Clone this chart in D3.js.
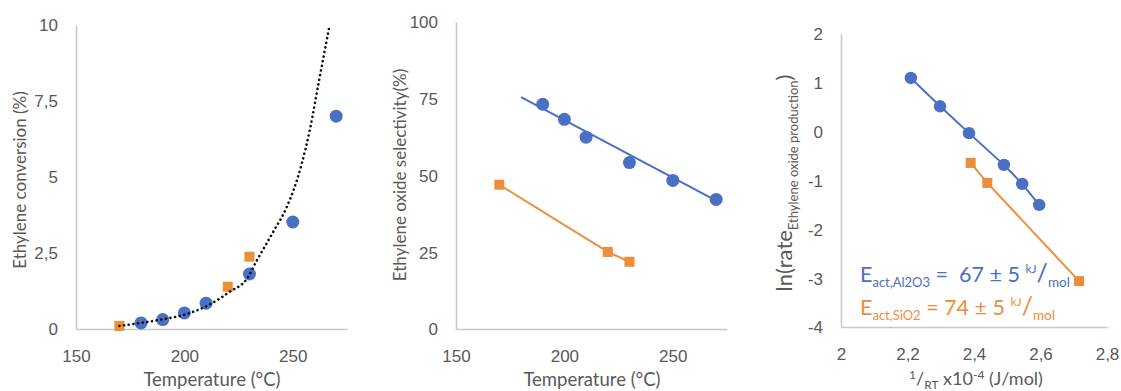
<!DOCTYPE html>
<html><head><meta charset="utf-8">
<script src="https://cdn.jsdelivr.net/npm/d3@7/dist/d3.min.js"></script>
<style>
html,body{margin:0;padding:0;background:#fff;}
svg{display:block;font-family:Lato,"Open Sans",sans-serif;}
</style></head>
<body><svg id="c" width="1121" height="391"></svg>
<script>
// ---------- data ----------
// Panel 1: ethylene conversion (%) vs temperature
const convAlT = [180,190,200,210,230,250,270];
const convAlV = [0.2,0.31,0.53,0.85,1.81,3.52,7.0];
const convSiT = [170,220,230];
const convSiV = [0.1,1.39,2.38];
// dotted exponential trend line
const trendT = [170,180,190,200,212,221,229,233,241,247,254,258,262,267];
const trendV = [0.10,0.20,0.32,0.47,0.82,1.23,1.67,2.2,3.2,3.98,5.4,6.6,8.13,10];
const p1YTicks = [0,2.5,5,7.5,10];
const p1XTicks = [150,200,250];

// Panel 2: ethylene oxide selectivity (%) vs temperature
const selAlT = [190,200,210,230,250,270];
const selAlV = [73.2,68.3,62.5,54.2,48.4,42.2];
const selAlFitT = [180,270];
const selAlFitV = [75.5,41.8];
const selSiT = [170,220,230];
const selSiV = [47,25.1,21.9];
const p2YTicks = [0,25,50,75,100];
const p2XTicks = [150,200,250];

// Panel 3: Arrhenius plot
const arrAlX = [2.21,2.298,2.385,2.49,2.545,2.596];
const arrAlY = [1.1,0.52,-0.03,-0.68,-1.07,-1.5];
const arrSiX = [2.39,2.44,2.716];
const arrSiY = [-0.64,-1.05,-3.06];
const p3YTicks = [-4,-3,-2,-1,0,1,2];
const p3XTicks = [2,2.2,2.4,2.6,2.8];

// ---------- style ----------
const BLUE = "#4A6FC4", ORANGE = "#EE8D3C", AXIS = "#C8C8C8", TXT = "#595959";
const fmt = d => String(d).replace(".", ",");
const svg = d3.select("#c");

function panel(o) {
  const g = svg.append("g");
  const x = d3.scaleLinear().domain(o.xd).range(o.xr);
  const y = d3.scaleLinear().domain(o.yd).range(o.yr);
  const ax = d3.axisBottom(x).tickValues(o.xt).tickSize(0).tickPadding(0).tickFormat(fmt);
  const gx = g.append("g").attr("transform", `translate(0,${o.yr[0]})`).call(ax);
  gx.select(".domain").attr("stroke", AXIS).attr("stroke-width", 1.5);
  gx.selectAll("text").attr("fill", TXT).attr("font-size", 17).attr("dy", 0).attr("y", 33);
  const ay = d3.axisLeft(y).tickValues(o.yt).tickSize(0).tickPadding(0).tickFormat(fmt);
  const gy = g.append("g").attr("transform", `translate(${o.xr[0]},0)`).call(ay);
  gy.select(".domain").attr("stroke", AXIS).attr("stroke-width", 1.5);
  gy.selectAll("text").attr("fill", TXT).attr("font-size", 17).attr("x", -18).attr("dy", "0.35em");
  return {g, x, y};
}
function circles(p, xs, ys, r) {
  p.g.append("g").selectAll("circle").data(xs.map((d,i)=>[d,ys[i]])).join("circle")
    .attr("cx", d=>p.x(d[0])).attr("cy", d=>p.y(d[1])).attr("r", r).attr("fill", BLUE);
}
function squares(p, xs, ys, s) {
  p.g.append("g").selectAll("rect").data(xs.map((d,i)=>[d,ys[i]])).join("rect")
    .attr("x", d=>p.x(d[0])-s/2).attr("y", d=>p.y(d[1])-s/2).attr("width", s).attr("height", s).attr("fill", ORANGE);
}
function line(p, xs, ys, color, w, curve) {
  const ln = d3.line().x(d=>p.x(d[0])).y(d=>p.y(d[1])).curve(curve || d3.curveLinear);
  return p.g.append("path").datum(xs.map((d,i)=>[d,ys[i]])).attr("d", ln)
    .attr("fill", "none").attr("stroke", color).attr("stroke-width", w);
}

// ---------- Panel 1 ----------
const p1 = panel({xd:[150,275], xr:[76,347], yd:[0,10], yr:[329,25], xt:p1XTicks, yt:p1YTicks});
squares(p1, convSiT, convSiV, 10);
circles(p1, convAlT, convAlV, 6.5);
line(p1, trendT, trendV, "#111", 2.6, d3.curveMonotoneX)
  .attr("stroke-dasharray", "0.1 4.6").attr("stroke-linecap", "round");
p1.g.append("text").attr("x", 212).attr("y", 386).attr("text-anchor", "middle")
  .attr("fill", TXT).attr("font-size", 18.5).text("Temperature (°C)");
p1.g.append("text").attr("transform", "translate(26,180) rotate(-90)").attr("text-anchor", "middle")
  .attr("fill", TXT).attr("font-size", 17).text("Ethylene conversion (%)");

// ---------- Panel 2 ----------
const p2 = panel({xd:[150,275], xr:[456,727], yd:[0,100], yr:[329,22], xt:p2XTicks, yt:p2YTicks});
line(p2, selAlFitT, selAlFitV, BLUE, 2);
line(p2, selSiT, selSiV, ORANGE, 2);
circles(p2, selAlT, selAlV, 6.5);
squares(p2, selSiT, selSiV, 10);
p2.g.append("text").attr("x", 592).attr("y", 386).attr("text-anchor", "middle")
  .attr("fill", TXT).attr("font-size", 18.5).text("Temperature (°C)");
p2.g.append("text").attr("transform", "translate(406,175) rotate(-90)").attr("text-anchor", "middle")
  .attr("fill", TXT).attr("font-size", 17).text("Ethylene oxide selectivity(%)");

// ---------- Panel 3 ----------
const p3 = panel({xd:[2,2.8], xr:[841,1107], yd:[-4,2], yr:[327,34], xt:p3XTicks, yt:p3YTicks});
line(p3, arrAlX, arrAlY, BLUE, 2);
line(p3, arrSiX, arrSiY, ORANGE, 2);
circles(p3, arrAlX, arrAlY, 6.2);
squares(p3, arrSiX, arrSiY, 10);
const xt3 = p3.g.append("text").attr("x", 976).attr("y", 385).attr("text-anchor", "middle")
  .attr("fill", TXT).attr("font-size", 18);
xt3.append("tspan").attr("font-size", 12).attr("dy", -6).text("1");
xt3.append("tspan").attr("dy", 6).text("/");
xt3.append("tspan").attr("font-size", 12).attr("dy", 4).text("RT");
xt3.append("tspan").attr("dy", -4).text(" x10");
xt3.append("tspan").attr("font-size", 12).attr("dy", -6).text("-4");
xt3.append("tspan").attr("dy", 6).text(" (J/mol)");
const yt3 = p3.g.append("text").attr("transform", "translate(792,183) rotate(-90)").attr("text-anchor", "middle")
  .attr("fill", TXT).attr("font-size", 22);
yt3.append("tspan").text("ln(rate");
yt3.append("tspan").attr("font-size", 13).attr("dy", 6).text("Ethylene oxide production");
yt3.append("tspan").attr("dy", -6).text(")");
function eact(yb, sub, val, color) {
  const t = p3.g.append("text").attr("x", 860).attr("y", yb).attr("fill", color).attr("font-size", 21.5);
  t.append("tspan").text("E");
  t.append("tspan").attr("font-size", 13).attr("dy", 5).text(sub);
  t.append("tspan").attr("dy", -5).text(val);
  t.append("tspan").attr("font-size", 12).attr("dy", -9).text("kJ");
  t.append("tspan").attr("font-size", 25).attr("dy", 9).text("/");
  t.append("tspan").attr("font-size", 13.5).attr("dy", 5).text("mol");
}
eact(282, "act,Al2O3", "\u00a0=\u00a0\u00a067 ± 5\u00a0", BLUE);
eact(315, "act,SiO2", "\u00a0= 74 ± 5\u00a0", ORANGE);
</script></body></html>
